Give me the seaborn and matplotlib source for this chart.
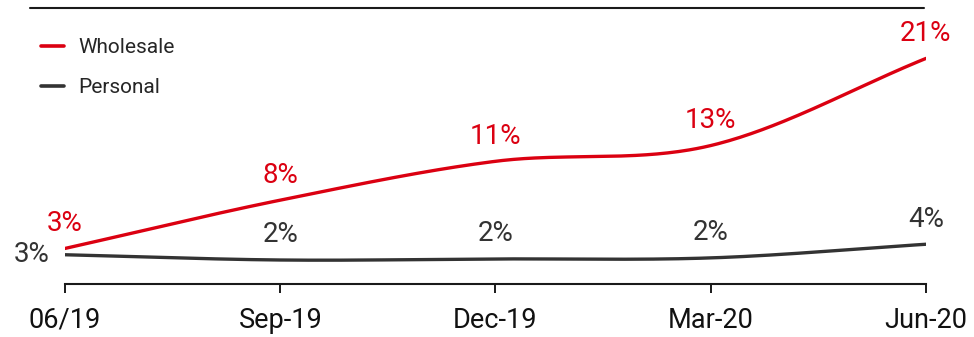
import numpy as np
import pandas as pd
import matplotlib
matplotlib.use("Agg")
import matplotlib.pyplot as plt
import seaborn as sns
from matplotlib.lines import Line2D

# ---- data ----
periods = ["06/19", "Sep-19", "Dec-19", "Mar-20", "Jun-20"]
wholesale = [3.1, 7.7, 11.4, 12.9, 21.2]
personal = [2.5, 2.0, 2.1, 2.2, 3.5]
series_names = ["Wholesale", "Personal"]

RED = "#DB0011"
DARK = "#333333"

sns.set_theme(style="white")
plt.rcParams["font.family"] = ["Roboto", "DejaVu Sans"]


def catmull_rom(y, n=60):
    y = np.asarray(y, float)
    x = np.arange(len(y), dtype=float)
    m = np.empty_like(y)
    m[1:-1] = (y[2:] - y[:-2]) / 2.0
    m[0] = y[1] - y[0]
    m[-1] = y[-1] - y[-2]
    xs, ys = [], []
    for i in range(len(y) - 1):
        t = np.linspace(0, 1, n, endpoint=(i == len(y) - 2))
        h00 = 2 * t**3 - 3 * t**2 + 1
        h10 = t**3 - 2 * t**2 + t
        h01 = -2 * t**3 + 3 * t**2
        h11 = t**3 - t**2
        xs.append(x[i] + t)
        ys.append(h00 * y[i] + h10 * m[i] + h01 * y[i + 1] + h11 * m[i + 1])
    return np.concatenate(xs), np.concatenate(ys)


frames = []
for name, vals in zip(series_names, [wholesale, personal]):
    xs, ys = catmull_rom(vals)
    frames.append(pd.DataFrame({"x": xs, "y": ys, "series": name}))
df = pd.concat(frames, ignore_index=True)

W, H = 974, 337
fig = plt.figure(figsize=(W / 100, H / 100), dpi=100)
ax = fig.add_axes([65 / W, (H - 284) / H, (926 - 65) / W, (284 - 8) / H])

sns.lineplot(data=df, x="x", y="y", hue="series", palette={"Wholesale": RED, "Personal": DARK},
             estimator=None, sort=False, linewidth=2.4, ax=ax, legend=False)
for l in ax.lines:
    l.set_solid_capstyle("round")

ax.set_xlim(0, len(periods) - 1)
ax.set_ylim(-0.286, 26.0)
ax.set_xlabel("")
ax.set_ylabel("")
ax.set_yticks([])
ax.set_xticks(range(len(periods)))
ax.set_xticklabels(periods, fontsize=19.5, color="#111111")
ax.tick_params(axis="x", direction="out", length=6.5, width=1.4, color="#1a1a1a", pad=10, bottom=True)
for s in ["top", "left", "right"]:
    ax.spines[s].set_visible(False)
ax.spines["bottom"].set_color("#1a1a1a")
ax.spines["bottom"].set_linewidth(1.5)


def lab(v):
    return f"{int(np.floor(v + 0.5))}%"


for i, v in enumerate(wholesale):
    ax.annotate(lab(v), (i, v), xytext=(0, 18), textcoords="offset points",
                ha="center", va="center", fontsize=20, color=RED)
for i, v in enumerate(personal):
    if i == 0:
        ax.annotate(lab(v), (i, v), xytext=(-11, 0), textcoords="offset points",
                    ha="right", va="center", fontsize=20, color=DARK, annotation_clip=False)
    else:
        ax.annotate(lab(v), (i, v), xytext=(0, 18), textcoords="offset points",
                    ha="center", va="center", fontsize=20, color=DARK, annotation_clip=False)

# top rule
fig.add_artist(Line2D([30 / W, 924 / W], [1 - 8 / H, 1 - 8 / H], transform=fig.transFigure,
                      color="#1a1a1a", linewidth=1.5))

handles = [Line2D([], [], color=RED, linewidth=2.6, solid_capstyle="round"),
           Line2D([], [], color=DARK, linewidth=2.6, solid_capstyle="round")]
fig.legend(handles, series_names, loc="upper left", bbox_to_anchor=(41 / W, 1 - 38 / H),
           frameon=False, handlelength=1.1, handletextpad=0.7,
           labelspacing=1.0, borderpad=0, borderaxespad=0, prop={"size": 15})

fig.savefig("out.png", dpi=100)
